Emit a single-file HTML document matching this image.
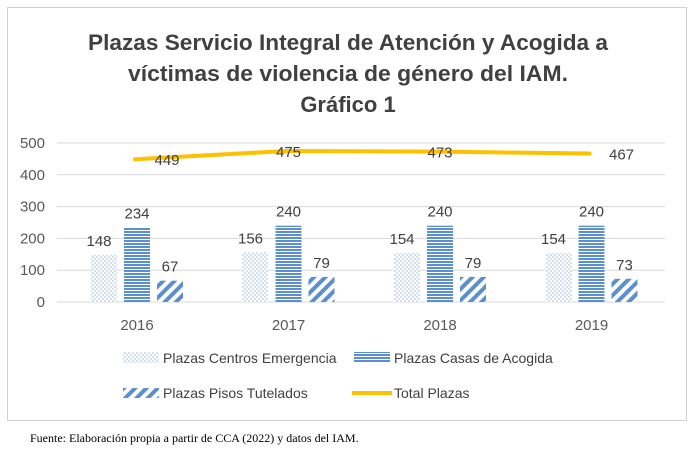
<!DOCTYPE html>
<html><head><meta charset="utf-8"><style>
body{margin:0;background:#fff;width:696px;height:454px;overflow:hidden}
</style></head><body>
<svg width="696" height="454" xmlns="http://www.w3.org/2000/svg">
<defs>
<pattern id="dots" width="4" height="4" patternUnits="userSpaceOnUse"><rect width="4" height="4" fill="#fff"/><circle cx="1" cy="1" r="0.8" fill="#9dbbe0"/><circle cx="3" cy="3" r="0.8" fill="#9dbbe0"/></pattern>
<pattern id="hlines" width="4" height="3" patternUnits="userSpaceOnUse"><rect width="4" height="3" fill="#fff"/><rect width="4" height="2" fill="#5b8fd0"/></pattern>
<pattern id="diag" width="8" height="8" patternUnits="userSpaceOnUse" patternTransform="rotate(45)"><rect width="8" height="8" fill="#fff"/><rect width="4" height="8" fill="#5b8fd0"/></pattern>
</defs>
<rect x="7.5" y="7.5" width="679" height="413" fill="#fff" stroke="#d0d0d0"/>
<g font-family="Liberation Sans, sans-serif" font-weight="bold" font-size="22" fill="#404040" text-anchor="middle">
<text x="348" y="50" textLength="520" lengthAdjust="spacingAndGlyphs">Plazas Servicio Integral de Atención y Acogida a</text>
<text x="348" y="81" textLength="440" lengthAdjust="spacingAndGlyphs">víctimas de violencia de género del IAM.</text>
<text x="348" y="112">Gráfico 1</text>
</g>
<g id="grid"></g><g id="bars"></g><g id="line"></g><g id="labels"></g>
<g font-family="Liberation Sans, sans-serif" font-size="14" fill="#404040">
<rect x="123" y="352" width="36" height="11" fill="url(#dots)"/>
<text x="163" y="363">Plazas Centros Emergencia</text>
<rect x="354" y="352" width="36" height="11" fill="url(#hlines)"/>
<text x="394" y="363">Plazas Casas de Acogida</text>
<rect x="123" y="388" width="36" height="10" fill="url(#diag)"/>
<text x="163" y="398">Plazas Pisos Tutelados</text>
<line x1="352" y1="393" x2="392" y2="393" stroke="#ffc000" stroke-width="4"/>
<text x="394" y="398">Total Plazas</text>
</g>
<text x="30" y="442" font-family="Liberation Serif, serif" font-size="12" fill="#000">Fuente: Elaboración propia a partir de CCA (2022) y datos del IAM.</text>
</svg>
<script>
const categories=["2016","2017","2018","2019"];
const emergencia=[148,156,154,154];
const casas=[234,240,240,240];
const pisos=[67,79,79,73];
const total=[449,475,473,467];
const yTicks=[0,100,200,300,400,500];
const NS="http://www.w3.org/2000/svg";
const y=v=>302-v*0.318;
const x=i=>137+i*151.5;
function mk(tag,attrs,parent,txt){const e=document.createElementNS(NS,tag);for(const k in attrs)e.setAttribute(k,attrs[k]);if(txt!==undefined)e.textContent=txt;document.getElementById(parent).appendChild(e);return e;}
yTicks.forEach(t=>{
 const l=mk('line',{x1:57,x2:665,y1:y(t),y2:y(t),stroke:'#d9d9d9','stroke-width':1},'grid');
 
 
 const tx=mk('text',{x:45,y:y(t)+5,'text-anchor':'end','font-family':'Liberation Sans, sans-serif','font-size':15,fill:'#595959'},'grid',t);
 
 
});
const series=[[emergencia,'url(#dots)',-33,'bar-emergencia'],[casas,'url(#hlines)',0,'bar-casas'],[pisos,'url(#diag)',33,'bar-pisos']];
categories.forEach((c,i)=>{
 series.forEach(([arr,fill,off,name])=>{
  const cx=x(i)+off;
  const r=mk('rect',{x:cx-13,y:y(arr[i]),width:26,height:302-y(arr[i]),fill:fill},'bars');
  
  
  const t=mk('text',{x:cx-(off<0?5:0),y:y(arr[i])-9,'text-anchor':'middle','font-family':'Liberation Sans, sans-serif','font-size':15,fill:'#404040'},'labels',arr[i]);
  
  
 });
 const xl=mk('text',{x:x(i),y:330,'text-anchor':'middle','font-family':'Liberation Sans, sans-serif','font-size':15,fill:'#595959'},'labels',c);
 
 
});
const pts=total.map((v,i)=>(x(i)-2)+','+y(v)).join(' ');
const pl=mk('polyline',{points:pts,fill:'none',stroke:'#ffc000','stroke-width':4,'stroke-linecap':'round'},'line');


const loff=[30,0,0,30];
total.forEach((v,i)=>{
 const t=mk('text',{x:x(i)+loff[i],y:y(v)+6,'text-anchor':'middle','font-family':'Liberation Sans, sans-serif','font-size':15,fill:'#404040'},'labels',v);
 
 
});
</script>
</body></html>
